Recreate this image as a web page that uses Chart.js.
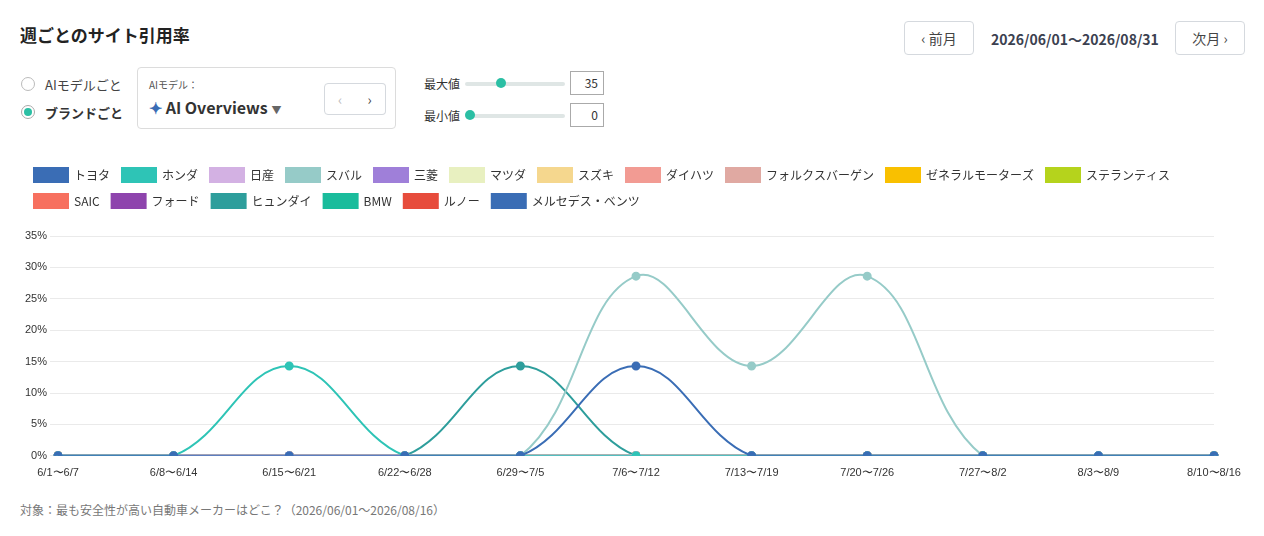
<!DOCTYPE html>
<html><head><meta charset="utf-8">
<script src="https://cdn.jsdelivr.net/npm/chart.js@4"></script>
<style>
body{margin:0;width:1264px;height:536px;background:#fff;font-family:"Noto Sans CJK JP","Noto Sans",sans-serif;color:#333;position:relative;overflow:hidden}
.abs{position:absolute}
.btn{border:1px solid #d5d9de;border-radius:4px;background:#fff;font-size:14px;color:#444;display:flex;align-items:center;justify-content:center}
.radio{width:14px;height:14px;border:1px solid #bbb;border-radius:50%;box-sizing:border-box}
.track{height:4px;background:#dfe6e5;border-radius:2px}
.knob{width:10px;height:10px;border-radius:50%;background:#2bbfa4}
.inp{border:1px solid #aaa;width:34px;height:24px;font-size:12px;text-align:right;box-sizing:border-box;padding:4px 5px;line-height:14px}
</style></head><body>
<div class="abs" style="left:20px;top:22px;font-size:17px;font-weight:bold;color:#222">週ごとのサイト引用率</div>
<div class="abs btn" style="left:904px;top:21px;width:68px;height:32px">‹ 前月</div>
<div class="abs" style="left:991px;top:29px;font-size:14px;font-weight:bold;color:#3b4150">2026/06/01〜2026/08/31</div>
<div class="abs btn" style="left:1175px;top:21px;width:68px;height:32px">次月 ›</div>
<div class="abs radio" style="left:21px;top:77px"></div>
<div class="abs" style="left:45px;top:75px;font-size:13px;color:#444">AIモデルごと</div>
<div class="abs radio" style="left:21px;top:105px;border-color:#aaa;display:flex;align-items:center;justify-content:center"><div style="width:8px;height:8px;border-radius:50%;background:#2bbfa4"></div></div>
<div class="abs" style="left:45px;top:103px;font-size:13px;font-weight:bold;color:#333">ブランドごと</div>
<div class="abs" style="left:137px;top:67px;width:259px;height:62px;border:1px solid #dcdcdc;border-radius:4px;box-sizing:border-box"></div>
<div class="abs" style="left:149px;top:77px;font-size:10px;color:#555">AIモデル：</div>
<div class="abs" style="left:149px;top:95px;font-size:16px;font-weight:bold;color:#333"><span style="color:#3a6db5">✦</span> AI Overviews <span style="font-size:10px;color:#666">▼</span></div>
<div class="abs btn" style="left:324px;top:83px;width:30px;height:30px;border-radius:4px 0 0 4px;color:#bbb">‹</div>
<div class="abs btn" style="left:354px;top:83px;width:31px;height:30px;border-radius:0 4px 4px 0;border-left:none">›</div>
<div class="abs" style="left:424px;top:75px;font-size:12px">最大値</div>
<div class="abs track" style="left:465px;top:82px;width:100px"></div>
<div class="abs knob" style="left:496px;top:78px"></div>
<div class="abs inp" style="left:570px;top:71px">35</div>
<div class="abs" style="left:424px;top:107px;font-size:12px">最小値</div>
<div class="abs track" style="left:465px;top:114px;width:100px"></div>
<div class="abs knob" style="left:465px;top:110px"></div>
<div class="abs inp" style="left:570px;top:103px">0</div>
<div class="abs" style="left:0;top:156px;width:1254px;height:327px"><canvas id="c"></canvas></div>
<div class="abs" style="left:20px;top:501px;font-size:12px;color:#777">対象：最も安全性が高い自動車メーカーはどこ？（2026/06/01〜2026/08/16）</div>
<script>
const weeks=["6/1〜6/7","6/8〜6/14","6/15〜6/21","6/22〜6/28","6/29〜7/5","7/6〜7/12","7/13〜7/19","7/20〜7/26","7/27〜8/2","8/3〜8/9","8/10〜8/16"];
const brands=["トヨタ","ホンダ","日産","スバル","三菱","マツダ","スズキ","ダイハツ","フォルクスバーゲン","ゼネラルモーターズ","ステランティス","SAIC","フォード","ヒュンダイ","BMW","ルノー","メルセデス・ベンツ"];
const colors=["#3a6db5","#2ec4b6","#d3b1e3","#96cbc8","#9f7fd9","#e8f0c0","#f5d78e","#f29b93","#e0a9a2","#f9c000","#b5d31c","#f7705f","#8e44ad","#2e9e9c","#1abc9c","#e74c3c","#3a6db5"];
const zero=[0,0,0,0,0,0,0,0,0,0,0];
const toyota=[0,0,0,0,0,14.3,0,0,0,0,0];
const honda=[0,0,14.3,0,0,0,0,0,0,0,0];
const subaru=[0,0,0,0,0,28.6,14.3,28.6,0,0,0];
const hyundai=[0,0,0,0,14.3,0,0,0,0,0,0];
const values={"トヨタ":toyota,"ホンダ":honda,"スバル":subaru,"ヒュンダイ":hyundai};
const legendGap={id:'legendGap',beforeInit(chart){const f=chart.legend.fit;chart.legend.fit=function(){f.call(this);this.height+=18;};}};
new Chart(document.getElementById('c'),{type:'line',plugins:[legendGap],
data:{labels:weeks,datasets:brands.map((b,i)=>({label:b,data:values[b]||zero,borderColor:colors[i],backgroundColor:colors[i],pointBackgroundColor:colors[i],borderWidth:2,pointRadius:3.5,tension:0.4}))},
options:{responsive:true,maintainAspectRatio:false,animation:false,
layout:{padding:{left:22,right:40,top:0}},
plugins:{legend:{align:'start',labels:{boxWidth:34,boxHeight:14,font:{size:12,family:"Noto Sans CJK JP"},color:'#333',padding:12}},tooltip:{enabled:false}},
scales:{y:{min:0,max:35,ticks:{stepSize:5,callback:v=>v+'%',font:{size:11},color:'#333'},grid:{color:'#eaeaea'},border:{display:false}},
x:{offset:false,ticks:{font:{size:11},color:'#333',maxRotation:0},grid:{display:false},border:{color:'#ccc'}}}}});
</script></body></html>
